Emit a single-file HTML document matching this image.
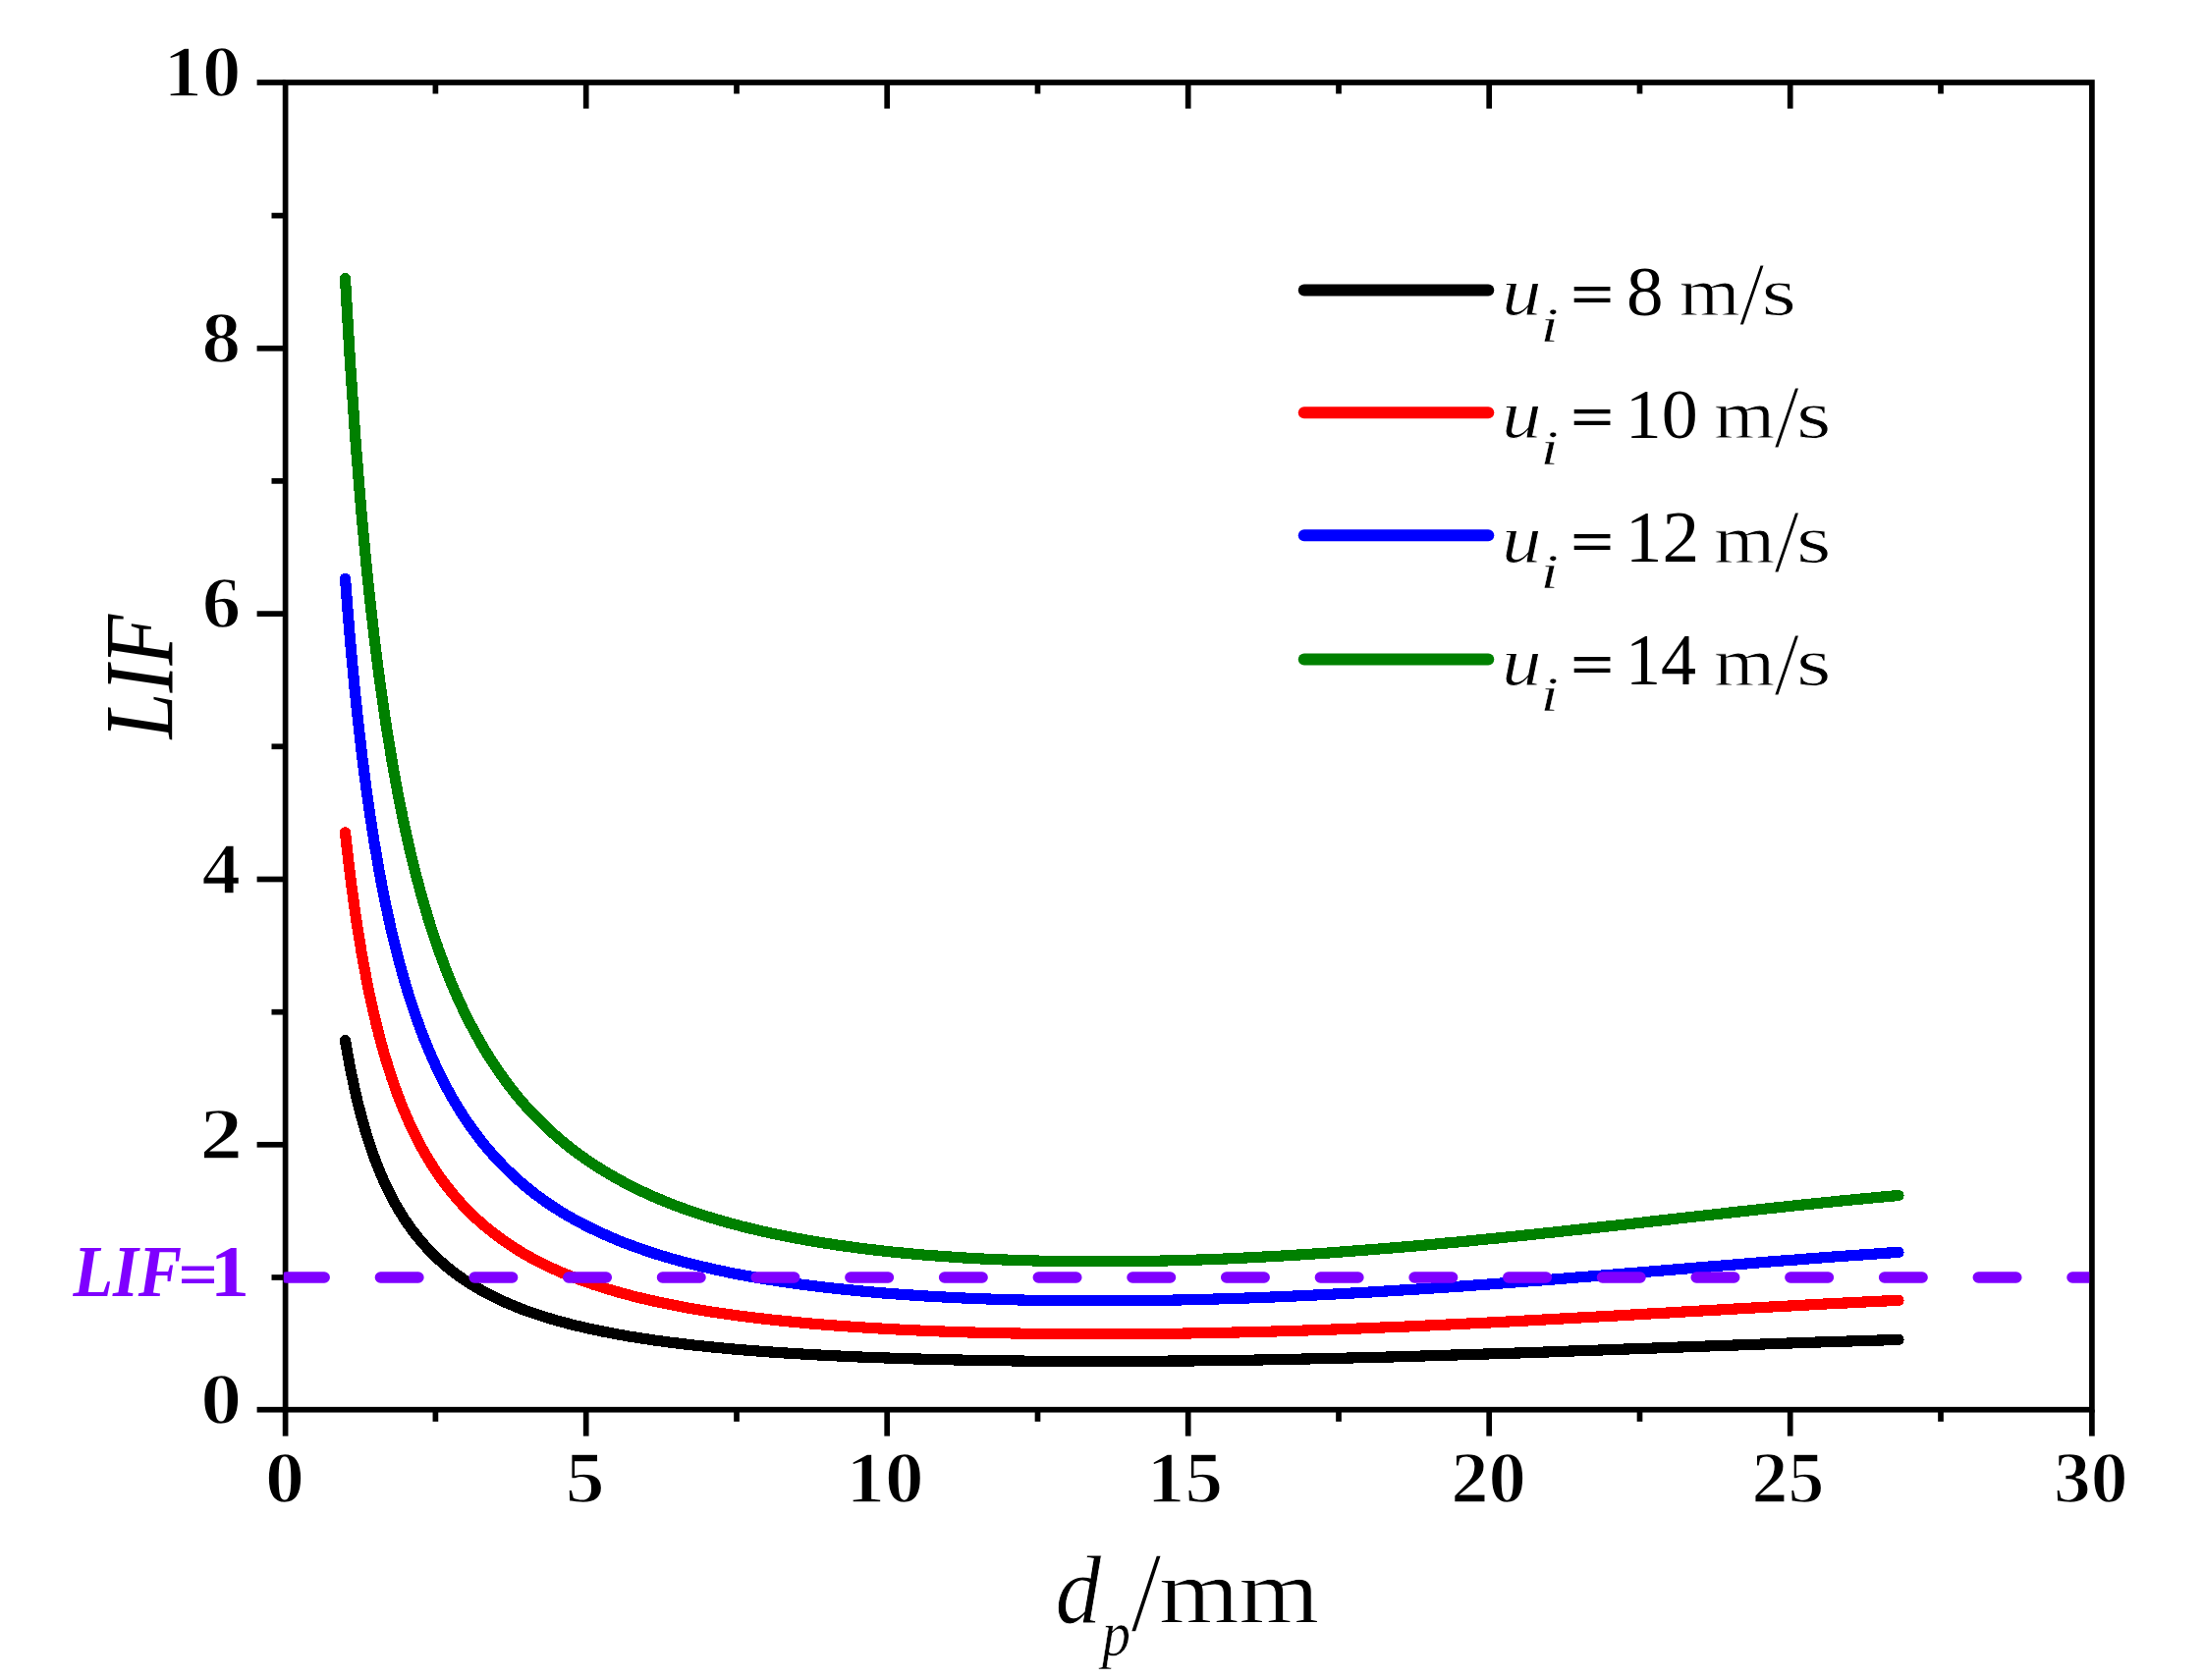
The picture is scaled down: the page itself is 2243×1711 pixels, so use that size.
<!DOCTYPE html>
<html><head><meta charset="utf-8"><title>LIF vs dp</title>
<style>
html,body{margin:0;padding:0;background:#fff;overflow:hidden;}
svg{display:block;}
text{font-family:"Liberation Serif","DejaVu Serif",serif;fill:#000;}
.b{font-weight:bold;}
.i{font-style:italic;}
</style></head><body>
<svg width="2243" height="1711" viewBox="0 0 2243 1711">
<rect x="0" y="0" width="2243" height="1711" fill="#fff"/>
<g shape-rendering="crispEdges">
<polyline points="351.5,1059.5 352.9,1067.5 354.3,1075.2 355.6,1082.6 357.0,1089.7 358.4,1096.5 359.8,1103.0 361.1,1109.3 362.5,1115.4 363.9,1121.2 365.3,1126.8 366.7,1132.2 368.0,1137.4 369.4,1142.4 370.8,1147.3 372.2,1152.0 373.5,1156.5 374.9,1160.9 376.3,1165.1 377.7,1169.3 379.1,1173.3 380.4,1177.1 381.8,1180.9 383.2,1184.5 384.6,1188.1 385.9,1191.5 387.3,1194.8 388.7,1198.1 390.1,1201.2 391.4,1204.3 392.8,1207.3 394.2,1210.2 395.6,1213.0 397.0,1215.8 398.3,1218.4 399.7,1221.1 401.1,1223.6 402.5,1226.1 403.8,1228.5 405.2,1230.9 406.6,1233.2 408.0,1235.5 409.4,1237.7 410.7,1239.9 412.1,1242.0 413.5,1244.1 414.9,1246.1 416.2,1248.0 417.6,1250.0 419.0,1251.9 420.4,1253.7 421.8,1255.5 423.1,1257.3 424.5,1259.1 425.9,1260.8 427.3,1262.4 428.6,1264.1 430.0,1265.7 431.4,1267.2 432.8,1268.8 434.2,1270.3 435.5,1271.8 436.9,1273.2 438.3,1274.7 439.7,1276.1 441.0,1277.5 442.4,1278.8 443.8,1280.1 445.2,1281.4 446.5,1282.7 447.9,1284.0 449.3,1285.2 450.7,1286.4 452.1,1287.6 453.4,1288.8 454.8,1290.0 456.2,1291.1 457.6,1292.2 458.9,1293.3 460.3,1294.4 461.7,1295.5 463.1,1296.5 464.5,1297.6 465.8,1298.6 467.2,1299.6 468.6,1300.5 470.0,1301.5 471.3,1302.5 472.7,1303.4 474.1,1304.3 479.3,1307.7 484.5,1310.9 489.7,1313.9 494.9,1316.7 500.1,1319.4 505.3,1322.0 510.5,1324.5 515.7,1326.8 520.9,1329.0 526.0,1331.1 531.2,1333.2 536.4,1335.1 541.6,1336.9 546.8,1338.7 552.0,1340.4 557.2,1342.0 562.4,1343.6 567.6,1345.1 572.8,1346.5 578.0,1347.9 583.2,1349.2 588.4,1350.5 593.6,1351.7 598.8,1352.9 604.0,1354.1 609.2,1355.1 614.4,1356.2 619.6,1357.2 624.8,1358.2 629.9,1359.2 635.1,1360.1 640.3,1361.0 645.5,1361.8 650.7,1362.6 655.9,1363.4 661.1,1364.2 666.3,1365.0 671.5,1365.7 676.7,1366.4 681.9,1367.1 687.1,1367.7 692.3,1368.4 697.5,1369.0 702.7,1369.6 707.9,1370.2 713.1,1370.7 718.3,1371.3 723.5,1371.8 728.7,1372.3 733.8,1372.8 739.0,1373.3 744.2,1373.8 749.4,1374.2 754.6,1374.7 759.8,1375.1 765.0,1375.5 770.2,1375.9 775.4,1376.3 780.6,1376.7 795.2,1377.7 809.8,1378.6 824.4,1379.5 839.0,1380.3 853.5,1381.0 868.1,1381.7 882.7,1382.3 897.3,1382.8 911.9,1383.3 926.5,1383.8 941.1,1384.2 955.7,1384.6 970.2,1384.9 984.8,1385.2 999.4,1385.5 1014.0,1385.7 1028.6,1385.9 1043.2,1386.1 1057.8,1386.2 1072.4,1386.3 1086.9,1386.4 1101.5,1386.4 1116.1,1386.4 1130.7,1386.4 1145.3,1386.4 1159.9,1386.3 1174.5,1386.3 1189.1,1386.1 1203.6,1386.0 1218.2,1385.9 1232.8,1385.7 1247.4,1385.5 1262.0,1385.3 1276.6,1385.1 1291.2,1384.8 1305.8,1384.5 1320.4,1384.2 1334.9,1383.9 1349.5,1383.6 1364.1,1383.3 1378.7,1382.9 1393.3,1382.5 1407.9,1382.2 1422.5,1381.8 1437.1,1381.4 1451.6,1380.9 1466.2,1380.5 1480.8,1380.0 1495.4,1379.6 1510.0,1379.1 1524.6,1378.6 1539.2,1378.2 1553.8,1377.7 1568.3,1377.2 1582.9,1376.7 1597.5,1376.1 1612.1,1375.6 1626.7,1375.1 1641.3,1374.6 1655.9,1374.0 1670.5,1373.5 1685.0,1373.0 1699.6,1372.4 1714.2,1371.9 1728.8,1371.4 1743.4,1370.8 1758.0,1370.3 1772.6,1369.8 1787.2,1369.3 1801.7,1368.7 1816.3,1368.2 1830.9,1367.7 1845.5,1367.2 1860.1,1366.7 1874.7,1366.3 1889.3,1365.8 1903.9,1365.3 1918.5,1364.9 1933.0,1364.4" fill="none" stroke="#000000" stroke-width="11.2" stroke-linecap="round" stroke-linejoin="round"/>
<polyline points="351.5,847.9 352.9,860.5 354.3,872.5 355.6,884.0 357.0,895.1 358.4,905.7 359.8,915.9 361.1,925.7 362.5,935.2 363.9,944.3 365.3,953.0 366.7,961.4 368.0,969.6 369.4,977.4 370.8,985.0 372.2,992.4 373.5,999.5 374.9,1006.3 376.3,1013.0 377.7,1019.4 379.1,1025.6 380.4,1031.7 381.8,1037.5 383.2,1043.2 384.6,1048.7 385.9,1054.1 387.3,1059.3 388.7,1064.4 390.1,1069.3 391.4,1074.1 392.8,1078.8 394.2,1083.3 395.6,1087.7 397.0,1092.0 398.3,1096.2 399.7,1100.3 401.1,1104.3 402.5,1108.2 403.8,1112.0 405.2,1115.7 406.6,1119.3 408.0,1122.9 409.4,1126.3 410.7,1129.7 412.1,1133.0 413.5,1136.2 414.9,1139.4 416.2,1142.5 417.6,1145.5 419.0,1148.5 420.4,1151.4 421.8,1154.2 423.1,1157.0 424.5,1159.7 425.9,1162.4 427.3,1165.0 428.6,1167.5 430.0,1170.0 431.4,1172.5 432.8,1174.9 434.2,1177.3 435.5,1179.6 436.9,1181.9 438.3,1184.1 439.7,1186.3 441.0,1188.5 442.4,1190.6 443.8,1192.6 445.2,1194.7 446.5,1196.7 447.9,1198.7 449.3,1200.6 450.7,1202.5 452.1,1204.4 453.4,1206.2 454.8,1208.0 456.2,1209.8 457.6,1211.5 458.9,1213.2 460.3,1214.9 461.7,1216.6 463.1,1218.2 464.5,1219.8 465.8,1221.4 467.2,1223.0 468.6,1224.5 470.0,1226.0 471.3,1227.5 472.7,1229.0 474.1,1230.4 479.3,1235.7 484.5,1240.7 489.7,1245.4 494.9,1249.8 500.1,1254.0 505.3,1258.1 510.5,1261.9 515.7,1265.5 520.9,1269.0 526.0,1272.3 531.2,1275.5 536.4,1278.5 541.6,1281.4 546.8,1284.2 552.0,1286.8 557.2,1289.3 562.4,1291.8 567.6,1294.1 572.8,1296.4 578.0,1298.5 583.2,1300.6 588.4,1302.6 593.6,1304.5 598.8,1306.3 604.0,1308.1 609.2,1309.8 614.4,1311.5 619.6,1313.1 624.8,1314.6 629.9,1316.1 635.1,1317.5 640.3,1318.9 645.5,1320.3 650.7,1321.6 655.9,1322.8 661.1,1324.0 666.3,1325.2 671.5,1326.3 676.7,1327.4 681.9,1328.5 687.1,1329.5 692.3,1330.5 697.5,1331.5 702.7,1332.4 707.9,1333.3 713.1,1334.2 718.3,1335.0 723.5,1335.9 728.7,1336.7 733.8,1337.4 739.0,1338.2 744.2,1338.9 749.4,1339.6 754.6,1340.3 759.8,1341.0 765.0,1341.7 770.2,1342.3 775.4,1342.9 780.6,1343.5 795.2,1345.1 809.8,1346.5 824.4,1347.9 839.0,1349.1 853.5,1350.2 868.1,1351.3 882.7,1352.2 897.3,1353.1 911.9,1353.9 926.5,1354.6 941.1,1355.3 955.7,1355.9 970.2,1356.4 984.8,1356.9 999.4,1357.3 1014.0,1357.6 1028.6,1357.9 1043.2,1358.2 1057.8,1358.4 1072.4,1358.5 1086.9,1358.6 1101.5,1358.7 1116.1,1358.7 1130.7,1358.7 1145.3,1358.7 1159.9,1358.6 1174.5,1358.4 1189.1,1358.3 1203.6,1358.1 1218.2,1357.8 1232.8,1357.6 1247.4,1357.3 1262.0,1356.9 1276.6,1356.6 1291.2,1356.2 1305.8,1355.7 1320.4,1355.3 1334.9,1354.8 1349.5,1354.3 1364.1,1353.8 1378.7,1353.2 1393.3,1352.6 1407.9,1352.0 1422.5,1351.4 1437.1,1350.8 1451.6,1350.1 1466.2,1349.4 1480.8,1348.7 1495.4,1348.0 1510.0,1347.3 1524.6,1346.6 1539.2,1345.8 1553.8,1345.0 1568.3,1344.2 1582.9,1343.4 1597.5,1342.6 1612.1,1341.8 1626.7,1341.0 1641.3,1340.2 1655.9,1339.4 1670.5,1338.5 1685.0,1337.7 1699.6,1336.9 1714.2,1336.0 1728.8,1335.2 1743.4,1334.4 1758.0,1333.5 1772.6,1332.7 1787.2,1331.9 1801.7,1331.1 1816.3,1330.3 1830.9,1329.5 1845.5,1328.7 1860.1,1327.9 1874.7,1327.2 1889.3,1326.5 1903.9,1325.7 1918.5,1325.0 1933.0,1324.4" fill="none" stroke="#ff0000" stroke-width="11.2" stroke-linecap="round" stroke-linejoin="round"/>
<polyline points="351.5,589.2 352.9,607.3 354.3,624.7 355.6,641.3 357.0,657.2 358.4,672.5 359.8,687.2 361.1,701.3 362.5,714.9 363.9,728.0 365.3,740.6 366.7,752.8 368.0,764.5 369.4,775.8 370.8,786.7 372.2,797.3 373.5,807.5 374.9,817.4 376.3,827.0 377.7,836.2 379.1,845.2 380.4,853.9 381.8,862.3 383.2,870.5 384.6,878.5 385.9,886.2 387.3,893.7 388.7,901.0 390.1,908.1 391.4,915.0 392.8,921.7 394.2,928.3 395.6,934.6 397.0,940.8 398.3,946.9 399.7,952.8 401.1,958.5 402.5,964.1 403.8,969.6 405.2,974.9 406.6,980.2 408.0,985.2 409.4,990.2 410.7,995.1 412.1,999.8 413.5,1004.5 414.9,1009.0 416.2,1013.5 417.6,1017.8 419.0,1022.1 420.4,1026.3 421.8,1030.3 423.1,1034.3 424.5,1038.2 425.9,1042.1 427.3,1045.8 428.6,1049.5 430.0,1053.1 431.4,1056.7 432.8,1060.2 434.2,1063.6 435.5,1066.9 436.9,1070.2 438.3,1073.4 439.7,1076.6 441.0,1079.7 442.4,1082.7 443.8,1085.7 445.2,1088.6 446.5,1091.5 447.9,1094.4 449.3,1097.1 450.7,1099.9 452.1,1102.6 453.4,1105.2 454.8,1107.8 456.2,1110.4 457.6,1112.9 458.9,1115.4 460.3,1117.8 461.7,1120.2 463.1,1122.6 464.5,1124.9 465.8,1127.2 467.2,1129.4 468.6,1131.6 470.0,1133.8 471.3,1135.9 472.7,1138.0 474.1,1140.1 479.3,1147.7 484.5,1154.8 489.7,1161.6 494.9,1168.0 500.1,1174.1 505.3,1179.9 510.5,1185.4 515.7,1190.7 520.9,1195.7 526.0,1200.4 531.2,1205.0 536.4,1209.3 541.6,1213.5 546.8,1217.5 552.0,1221.3 557.2,1225.0 562.4,1228.5 567.6,1231.8 572.8,1235.1 578.0,1238.2 583.2,1241.1 588.4,1244.0 593.6,1246.8 598.8,1249.4 604.0,1252.0 609.2,1254.5 614.4,1256.8 619.6,1259.1 624.8,1261.3 629.9,1263.5 635.1,1265.6 640.3,1267.5 645.5,1269.5 650.7,1271.3 655.9,1273.1 661.1,1274.9 666.3,1276.6 671.5,1278.2 676.7,1279.8 681.9,1281.3 687.1,1282.8 692.3,1284.2 697.5,1285.6 702.7,1286.9 707.9,1288.3 713.1,1289.5 718.3,1290.7 723.5,1291.9 728.7,1293.1 733.8,1294.2 739.0,1295.3 744.2,1296.4 749.4,1297.4 754.6,1298.4 759.8,1299.3 765.0,1300.3 770.2,1301.2 775.4,1302.1 780.6,1302.9 795.2,1305.2 809.8,1307.3 824.4,1309.2 839.0,1311.0 853.5,1312.6 868.1,1314.1 882.7,1315.5 897.3,1316.8 911.9,1317.9 926.5,1318.9 941.1,1319.9 955.7,1320.7 970.2,1321.5 984.8,1322.2 999.4,1322.7 1014.0,1323.3 1028.6,1323.7 1043.2,1324.1 1057.8,1324.4 1072.4,1324.6 1086.9,1324.7 1101.5,1324.8 1116.1,1324.9 1130.7,1324.9 1145.3,1324.8 1159.9,1324.6 1174.5,1324.4 1189.1,1324.2 1203.6,1323.9 1218.2,1323.6 1232.8,1323.2 1247.4,1322.7 1262.0,1322.3 1276.6,1321.7 1291.2,1321.2 1305.8,1320.6 1320.4,1319.9 1334.9,1319.2 1349.5,1318.5 1364.1,1317.7 1378.7,1316.9 1393.3,1316.1 1407.9,1315.2 1422.5,1314.3 1437.1,1313.4 1451.6,1312.5 1466.2,1311.5 1480.8,1310.5 1495.4,1309.5 1510.0,1308.4 1524.6,1307.3 1539.2,1306.2 1553.8,1305.1 1568.3,1304.0 1582.9,1302.9 1597.5,1301.7 1612.1,1300.5 1626.7,1299.4 1641.3,1298.2 1655.9,1297.0 1670.5,1295.8 1685.0,1294.6 1699.6,1293.4 1714.2,1292.2 1728.8,1291.0 1743.4,1289.8 1758.0,1288.6 1772.6,1287.4 1787.2,1286.2 1801.7,1285.0 1816.3,1283.9 1830.9,1282.8 1845.5,1281.6 1860.1,1280.5 1874.7,1279.4 1889.3,1278.4 1903.9,1277.4 1918.5,1276.3 1933.0,1275.4" fill="none" stroke="#0000ff" stroke-width="11.2" stroke-linecap="round" stroke-linejoin="round"/>
<polyline points="351.5,283.6 352.9,308.2 354.3,331.8 355.6,354.4 357.0,376.1 358.4,396.9 359.8,416.9 361.1,436.2 362.5,454.7 363.9,472.5 365.3,489.6 366.7,506.2 368.0,522.1 369.4,537.5 370.8,552.4 372.2,566.8 373.5,580.7 374.9,594.1 376.3,607.1 377.7,619.7 379.1,632.0 380.4,643.8 381.8,655.3 383.2,666.4 384.6,677.3 385.9,687.8 387.3,698.0 388.7,707.9 390.1,717.6 391.4,727.0 392.8,736.1 394.2,745.0 395.6,753.7 397.0,762.1 398.3,770.4 399.7,778.4 401.1,786.2 402.5,793.8 403.8,801.3 405.2,808.6 406.6,815.7 408.0,822.6 409.4,829.4 410.7,836.0 412.1,842.4 413.5,848.8 414.9,855.0 416.2,861.0 417.6,866.9 419.0,872.7 420.4,878.4 421.8,884.0 423.1,889.4 424.5,894.7 425.9,899.9 427.3,905.1 428.6,910.1 430.0,915.0 431.4,919.8 432.8,924.5 434.2,929.2 435.5,933.7 436.9,938.2 438.3,942.6 439.7,946.9 441.0,951.1 442.4,955.2 443.8,959.3 445.2,963.3 446.5,967.2 447.9,971.1 449.3,974.9 450.7,978.6 452.1,982.3 453.4,985.9 454.8,989.4 456.2,992.9 457.6,996.3 458.9,999.7 460.3,1003.0 461.7,1006.3 463.1,1009.5 464.5,1012.6 465.8,1015.7 467.2,1018.8 468.6,1021.8 470.0,1024.8 471.3,1027.7 472.7,1030.5 474.1,1033.4 479.3,1043.7 484.5,1053.4 489.7,1062.6 494.9,1071.4 500.1,1079.7 505.3,1087.5 510.5,1095.0 515.7,1102.2 520.9,1109.0 526.0,1115.5 531.2,1121.7 536.4,1127.6 541.6,1133.3 546.8,1138.7 552.0,1143.9 557.2,1148.8 562.4,1153.6 567.6,1158.2 572.8,1162.6 578.0,1166.8 583.2,1170.9 588.4,1174.8 593.6,1178.5 598.8,1182.2 604.0,1185.7 609.2,1189.0 614.4,1192.3 619.6,1195.4 624.8,1198.4 629.9,1201.3 635.1,1204.1 640.3,1206.8 645.5,1209.4 650.7,1212.0 655.9,1214.4 661.1,1216.8 666.3,1219.1 671.5,1221.3 676.7,1223.5 681.9,1225.5 687.1,1227.6 692.3,1229.5 697.5,1231.4 702.7,1233.2 707.9,1235.0 713.1,1236.7 718.3,1238.4 723.5,1240.0 728.7,1241.6 733.8,1243.1 739.0,1244.6 744.2,1246.0 749.4,1247.4 754.6,1248.8 759.8,1250.1 765.0,1251.4 770.2,1252.6 775.4,1253.8 780.6,1255.0 795.2,1258.1 809.8,1260.9 824.4,1263.6 839.0,1266.0 853.5,1268.2 868.1,1270.2 882.7,1272.1 897.3,1273.8 911.9,1275.4 926.5,1276.8 941.1,1278.1 955.7,1279.2 970.2,1280.2 984.8,1281.2 999.4,1282.0 1014.0,1282.7 1028.6,1283.2 1043.2,1283.7 1057.8,1284.1 1072.4,1284.4 1086.9,1284.7 1101.5,1284.8 1116.1,1284.9 1130.7,1284.8 1145.3,1284.7 1159.9,1284.5 1174.5,1284.3 1189.1,1283.9 1203.6,1283.5 1218.2,1283.1 1232.8,1282.6 1247.4,1282.0 1262.0,1281.3 1276.6,1280.6 1291.2,1279.8 1305.8,1279.0 1320.4,1278.1 1334.9,1277.2 1349.5,1276.2 1364.1,1275.1 1378.7,1274.0 1393.3,1272.9 1407.9,1271.7 1422.5,1270.5 1437.1,1269.3 1451.6,1268.0 1466.2,1266.6 1480.8,1265.3 1495.4,1263.9 1510.0,1262.4 1524.6,1261.0 1539.2,1259.5 1553.8,1258.0 1568.3,1256.4 1582.9,1254.9 1597.5,1253.3 1612.1,1251.7 1626.7,1250.1 1641.3,1248.5 1655.9,1246.9 1670.5,1245.3 1685.0,1243.6 1699.6,1242.0 1714.2,1240.3 1728.8,1238.7 1743.4,1237.1 1758.0,1235.4 1772.6,1233.8 1787.2,1232.2 1801.7,1230.6 1816.3,1229.1 1830.9,1227.5 1845.5,1226.0 1860.1,1224.5 1874.7,1223.0 1889.3,1221.6 1903.9,1220.2 1918.5,1218.8 1933.0,1217.5" fill="none" stroke="#008000" stroke-width="11.2" stroke-linecap="round" stroke-linejoin="round"/>
</g>
<g stroke="#000" stroke-width="5.7" fill="none" stroke-linecap="butt">
<rect x="290.6" y="84.0" width="1839.3" height="1351.7"/>
<line x1="261.6" y1="1435.7" x2="290.6" y2="1435.7"/>
<line x1="276.5" y1="1301.0" x2="290.6" y2="1301.0"/>
<line x1="261.6" y1="1165.8" x2="290.6" y2="1165.8"/>
<line x1="276.5" y1="1030.7" x2="290.6" y2="1030.7"/>
<line x1="261.6" y1="895.5" x2="290.6" y2="895.5"/>
<line x1="276.5" y1="760.3" x2="290.6" y2="760.3"/>
<line x1="261.6" y1="625.1" x2="290.6" y2="625.1"/>
<line x1="276.5" y1="489.9" x2="290.6" y2="489.9"/>
<line x1="261.6" y1="354.8" x2="290.6" y2="354.8"/>
<line x1="276.5" y1="219.6" x2="290.6" y2="219.6"/>
<line x1="261.6" y1="84.0" x2="290.6" y2="84.0"/>
<line x1="290.6" y1="1435.7" x2="290.6" y2="1462.6"/>
<line x1="443.4" y1="1435.7" x2="443.4" y2="1447.8"/>
<line x1="443.4" y1="84.0" x2="443.4" y2="95.5"/>
<line x1="596.7" y1="1435.7" x2="596.7" y2="1462.6"/>
<line x1="596.7" y1="84.0" x2="596.7" y2="110.6"/>
<line x1="750.0" y1="1435.7" x2="750.0" y2="1447.8"/>
<line x1="750.0" y1="84.0" x2="750.0" y2="95.5"/>
<line x1="903.2" y1="1435.7" x2="903.2" y2="1462.6"/>
<line x1="903.2" y1="84.0" x2="903.2" y2="110.6"/>
<line x1="1056.5" y1="1435.7" x2="1056.5" y2="1447.8"/>
<line x1="1056.5" y1="84.0" x2="1056.5" y2="95.5"/>
<line x1="1209.7" y1="1435.7" x2="1209.7" y2="1462.6"/>
<line x1="1209.7" y1="84.0" x2="1209.7" y2="110.6"/>
<line x1="1363.0" y1="1435.7" x2="1363.0" y2="1447.8"/>
<line x1="1363.0" y1="84.0" x2="1363.0" y2="95.5"/>
<line x1="1516.2" y1="1435.7" x2="1516.2" y2="1462.6"/>
<line x1="1516.2" y1="84.0" x2="1516.2" y2="110.6"/>
<line x1="1669.5" y1="1435.7" x2="1669.5" y2="1447.8"/>
<line x1="1669.5" y1="84.0" x2="1669.5" y2="95.5"/>
<line x1="1822.7" y1="1435.7" x2="1822.7" y2="1462.6"/>
<line x1="1822.7" y1="84.0" x2="1822.7" y2="110.6"/>
<line x1="1976.0" y1="1435.7" x2="1976.0" y2="1447.8"/>
<line x1="1976.0" y1="84.0" x2="1976.0" y2="95.5"/>
<line x1="2129.9" y1="1435.7" x2="2129.9" y2="1462.6"/>
</g>
<clipPath id="cp"><rect x="288.8" y="1280" width="1838.5" height="40"/></clipPath>
<line clip-path="url(#cp)" x1="291.7" y1="1301.0" x2="2140" y2="1301.0" stroke="#7f00ff" stroke-width="11.5" stroke-linecap="round" stroke-dasharray="38.5 57.2"/>
<text class="b" stroke="#fff" stroke-width="1.515" transform="translate(166.59 98.15) scale(1.0558 1)" font-size="74.70">10</text>
<text class="b" stroke="#fff" stroke-width="1.507" transform="translate(205.52 368.91) scale(1.0617 1)" font-size="74.70">8</text>
<text class="b" stroke="#fff" stroke-width="1.516" transform="translate(205.74 639.27) scale(1.0556 1)" font-size="74.70">6</text>
<text class="b" stroke="#fff" stroke-width="1.510" transform="translate(205.61 909.63) scale(1.0596 1)" font-size="74.70">4</text>
<text class="b" stroke="#fff" stroke-width="1.374" transform="translate(203.60 1179.99) scale(1.1645 1)" font-size="74.70">2</text>
<text class="b" stroke="#fff" stroke-width="1.427" transform="translate(204.16 1449.85) scale(1.1213 1)" font-size="74.70">0</text>
<text class="b" stroke="#fff" stroke-width="1.494" transform="translate(270.00 1530.35) scale(1.0710 1)" font-size="74.70">0</text>
<text class="b" stroke="#fff" stroke-width="1.498" transform="translate(575.81 1530.35) scale(1.0678 1)" font-size="74.70">5</text>
<text class="b" stroke="#fff" stroke-width="1.509" transform="translate(861.46 1530.35) scale(1.0603 1)" font-size="74.70">10</text>
<text class="b" stroke="#fff" stroke-width="1.547" transform="translate(1167.82 1530.35) scale(1.0345 1)" font-size="74.70">15</text>
<text class="b" stroke="#fff" stroke-width="1.557" transform="translate(1477.14 1530.35) scale(1.0273 1)" font-size="74.70">20</text>
<text class="b" stroke="#fff" stroke-width="1.619" transform="translate(1783.56 1530.35) scale(0.9880 1)" font-size="74.70">25</text>
<text class="b" stroke="#fff" stroke-width="1.582" transform="translate(2090.97 1530.35) scale(1.0116 1)" font-size="74.70">30</text>
<text class="b i" style="fill:#7f00ff" transform="translate(74.40 1319.50) scale(0.6643 0.7420)" font-size="100">LIF</text>
<text class="b" style="fill:#7f00ff" transform="translate(181.45 1319.57) scale(0.7097 0.6519)" font-size="100">=</text>
<text class="b" style="fill:#7f00ff" transform="translate(214.10 1319.50) scale(0.8000 0.7364)" font-size="100">1</text>
<text class="i" transform="translate(175.3 752.45) rotate(-90) scale(0.8427 0.9908)" font-size="100">LIF</text>
<text class="i" stroke="#fff" stroke-width="0.8" vector-effect="non-scaling-stroke" transform="translate(1074.60 1652.51) scale(0.9333 0.9929)" font-size="100">d</text>
<text class="i" stroke="#fff" stroke-width="0.5" vector-effect="non-scaling-stroke" transform="translate(1121.90 1685.81) scale(0.5820 0.6652)" font-size="100">p</text>
<text stroke="#fff" stroke-width="1.5" vector-effect="non-scaling-stroke" transform="translate(1151.15 1661.49) scale(1.1279 1.1627)" font-size="100">/</text>
<text stroke="#fff" stroke-width="1.0" vector-effect="non-scaling-stroke" transform="translate(1179.90 1651.50) scale(1.0493 0.9319)" font-size="100">mm</text>
<line x1="1327.8" y1="295.5" x2="1515.3" y2="295.5" stroke="#000000" stroke-width="12" stroke-linecap="round"/>
<text class="i" stroke="#fff" stroke-width="0.9" vector-effect="non-scaling-stroke" transform="translate(1529.09 320.97) scale(0.8120 0.7005)" font-size="100">u</text>
<text class="i" stroke="#fff" stroke-width="0.4" vector-effect="non-scaling-stroke" transform="translate(1568.76 347.50) scale(0.6442 0.5132)" font-size="100">i</text>
<text class="b" transform="translate(1598.64 318.95) scale(0.7914 0.6000)" font-size="100">=</text>
<text transform="translate(1655.89 320.67) scale(0.7506 0.7274)" font-size="100">8</text>
<text stroke="#fff" stroke-width="0.9" vector-effect="non-scaling-stroke" transform="translate(1709.76 321.15) scale(0.7960 0.6957)" font-size="100">m</text>
<text stroke="#fff" stroke-width="1.2" vector-effect="non-scaling-stroke" transform="translate(1771.10 330.29) scale(0.9117 0.9090)" font-size="100">/</text>
<text stroke="#fff" stroke-width="0.9" vector-effect="non-scaling-stroke" transform="translate(1793.50 321.16) scale(0.9120 0.6896)" font-size="100">s</text>
<line x1="1327.8" y1="420.2" x2="1515.3" y2="420.2" stroke="#ff0000" stroke-width="12" stroke-linecap="round"/>
<text class="i" stroke="#fff" stroke-width="0.9" vector-effect="non-scaling-stroke" transform="translate(1529.09 445.97) scale(0.8120 0.7005)" font-size="100">u</text>
<text class="i" stroke="#fff" stroke-width="0.4" vector-effect="non-scaling-stroke" transform="translate(1568.76 472.50) scale(0.6442 0.5132)" font-size="100">i</text>
<text class="b" transform="translate(1598.64 443.95) scale(0.7914 0.6000)" font-size="100">=</text>
<text transform="translate(1654.83 445.67) scale(0.7394 0.7274)" font-size="100">10</text>
<text stroke="#fff" stroke-width="0.9" vector-effect="non-scaling-stroke" transform="translate(1745.26 446.15) scale(0.7960 0.6957)" font-size="100">m</text>
<text stroke="#fff" stroke-width="1.2" vector-effect="non-scaling-stroke" transform="translate(1806.60 455.29) scale(0.9117 0.9090)" font-size="100">/</text>
<text stroke="#fff" stroke-width="0.9" vector-effect="non-scaling-stroke" transform="translate(1829.00 446.16) scale(0.9120 0.6896)" font-size="100">s</text>
<line x1="1327.8" y1="545.2" x2="1515.3" y2="545.2" stroke="#0000ff" stroke-width="12" stroke-linecap="round"/>
<text class="i" stroke="#fff" stroke-width="0.9" vector-effect="non-scaling-stroke" transform="translate(1529.09 572.67) scale(0.8120 0.7005)" font-size="100">u</text>
<text class="i" stroke="#fff" stroke-width="0.4" vector-effect="non-scaling-stroke" transform="translate(1568.76 599.20) scale(0.6442 0.5132)" font-size="100">i</text>
<text class="b" transform="translate(1598.64 570.65) scale(0.7914 0.6000)" font-size="100">=</text>
<text transform="translate(1654.70 572.40) scale(0.7545 0.7306)" font-size="100">12</text>
<text stroke="#fff" stroke-width="0.9" vector-effect="non-scaling-stroke" transform="translate(1745.26 572.85) scale(0.7960 0.6957)" font-size="100">m</text>
<text stroke="#fff" stroke-width="1.2" vector-effect="non-scaling-stroke" transform="translate(1806.60 581.99) scale(0.9117 0.9090)" font-size="100">/</text>
<text stroke="#fff" stroke-width="0.9" vector-effect="non-scaling-stroke" transform="translate(1829.00 572.86) scale(0.9120 0.6896)" font-size="100">s</text>
<line x1="1327.8" y1="671.4" x2="1515.3" y2="671.4" stroke="#008000" stroke-width="12" stroke-linecap="round"/>
<text class="i" stroke="#fff" stroke-width="0.9" vector-effect="non-scaling-stroke" transform="translate(1529.09 697.67) scale(0.8120 0.7005)" font-size="100">u</text>
<text class="i" stroke="#fff" stroke-width="0.4" vector-effect="non-scaling-stroke" transform="translate(1568.76 724.20) scale(0.6442 0.5132)" font-size="100">i</text>
<text class="b" transform="translate(1598.64 695.65) scale(0.7914 0.6000)" font-size="100">=</text>
<text transform="translate(1654.99 697.40) scale(0.7209 0.7333)" font-size="100">14</text>
<text stroke="#fff" stroke-width="0.9" vector-effect="non-scaling-stroke" transform="translate(1745.26 697.85) scale(0.7960 0.6957)" font-size="100">m</text>
<text stroke="#fff" stroke-width="1.2" vector-effect="non-scaling-stroke" transform="translate(1806.60 706.99) scale(0.9117 0.9090)" font-size="100">/</text>
<text stroke="#fff" stroke-width="0.9" vector-effect="non-scaling-stroke" transform="translate(1829.00 697.86) scale(0.9120 0.6896)" font-size="100">s</text>
</svg></body></html>
